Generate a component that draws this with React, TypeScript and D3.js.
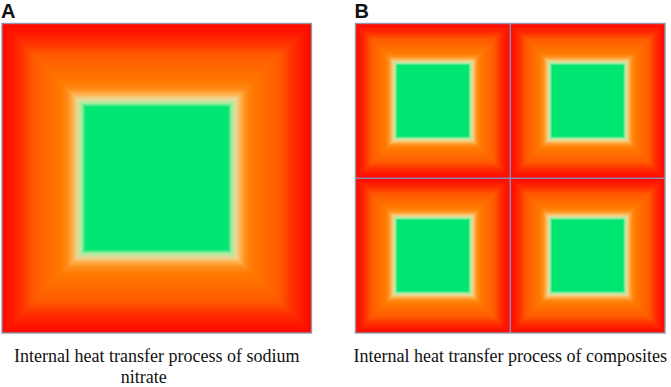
import React from "react";
import * as d3 from "d3";

const W = 671;
const H = 387;

const panels = ["A", "B"];
const gridCells = [1, 2]; // cells per side in each panel
const captionLines = [
  ["Internal heat transfer process of sodium", "nitrate"],
  ["Internal heat transfer process of composites"],
];
// temperature colour stops by distance from the cell edge (fraction of cell side)
const stopPositions = [0, 0.03, 0.065, 0.1, 0.15, 0.19, 0.212, 0.228, 0.243, 0.257, 0.27, 0.5];
const stopColors = [
  "#ff0800", "#ff1a00", "#ff3400", "#ff5a00", "#ff6c00", "#ff7a00",
  "#ff8e1c", "#ffb04c", "#ead898", "#a4eea0", "#00e672", "#00e672",
];

export default function App() {
  const x = d3.scaleBand<string>().domain(panels).range([2, 665]).paddingInner(0.1245);
  const size = x.bandwidth();
  const top = 23.5;
  const color = d3
    .scaleLinear<string>()
    .domain(stopPositions)
    .range(stopColors)
    .interpolate(d3.interpolateRgb)
    .clamp(true);
  const greenStart = stopPositions[stopPositions.length - 2];

  return (
    <svg width={W} height={H} style={{ position: "absolute", left: 0, top: 0 }}>
      {panels.map((p, pi) => {
        const x0 = x(p)!;
        const n = gridCells[pi];
        const cell = size / n;
        const cells = d3.cross(d3.range(n), d3.range(n));
        const steps = Math.ceil(cell * greenStart * 2);
        const depths = d3.range(steps).map((i) => (i / steps) * greenStart);
        const cx = x0 + size / 2;
        return (
          <g key={p}>
            {cells.map(([i, j]) => {
              const cx0 = x0 + i * cell;
              const cy0 = top + j * cell;
              return (
                <g key={`${i}-${j}`}>
                  {depths.map((d, k) => (
                    <rect
                      key={k}
                      x={cx0 + d * cell}
                      y={cy0 + d * cell}
                      width={cell * (1 - 2 * d)}
                      height={cell * (1 - 2 * d)}
                      fill={color(d)}
                    />
                  ))}
                  <rect
                    x={cx0 + greenStart * cell}
                    y={cy0 + greenStart * cell}
                    width={cell * (1 - 2 * greenStart)}
                    height={cell * (1 - 2 * greenStart)}
                    fill={color(0.5)}
                  />
                </g>
              );
            })}
            {d3.range(1, n).map((k) => (
              <g key={`div${k}`}>
                <line x1={x0 + k * cell} x2={x0 + k * cell} y1={top} y2={top + size} stroke="#8c86b0" strokeWidth={1.6} />
                <line x1={x0} x2={x0 + size} y1={top + k * cell} y2={top + k * cell} stroke="#8c86b0" strokeWidth={1.6} />
              </g>
            ))}
            <rect x={x0} y={top} width={size} height={size} fill="none" stroke="#9098aa" strokeWidth={1.4} />
            <text
              x={x0 - 1}
              y={18}
              fontFamily="'Liberation Sans', Arial, sans-serif"
              fontWeight="bold"
              fontSize={20}
              fill="#111"
            >
              {p}
            </text>
            {captionLines[pi].map((line, li) => (
              <text
                key={li}
                x={li === 0 ? cx : cx - 13}
                y={362 + li * 21}
                textAnchor="middle"
                fontFamily="'Liberation Serif', 'Times New Roman', serif"
                fontSize={18}
                fill="#111"
              >
                {line}
              </text>
            ))}
          </g>
        );
      })}
    </svg>
  );
}
